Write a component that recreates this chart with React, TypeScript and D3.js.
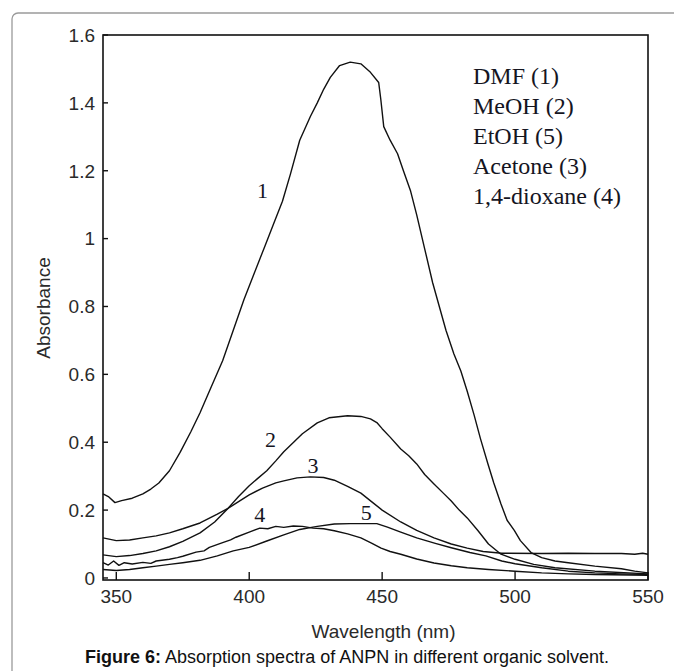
import React from "react";
import * as d3 from "d3";

// ---- Data ----
const dmfWl = [345, 347, 349.5, 352, 356, 360, 363, 366, 370, 374, 378, 381.5, 385, 390, 394, 398, 402, 406, 409, 412.5, 415.5, 419, 423, 425.6, 428, 430.5, 434, 438, 442, 445.6, 448.7, 449.5, 450.6, 453, 455.8, 458, 460.7, 463, 466, 469, 471.5, 474, 477, 479.6, 482, 484.6, 487, 489.8, 492, 494.7, 497, 499.7, 502, 506, 510, 515, 520, 530, 540, 545, 550];
const dmfAbs = [0.248, 0.24, 0.222, 0.228, 0.235, 0.248, 0.262, 0.28, 0.316, 0.37, 0.43, 0.487, 0.55, 0.64, 0.73, 0.82, 0.9, 0.98, 1.04, 1.11, 1.19, 1.29, 1.36, 1.4, 1.44, 1.475, 1.51, 1.52, 1.515, 1.49, 1.46, 1.41, 1.33, 1.29, 1.25, 1.2, 1.14, 1.07, 0.97, 0.87, 0.8, 0.73, 0.66, 0.61, 0.55, 0.48, 0.41, 0.336, 0.28, 0.218, 0.17, 0.14, 0.11, 0.075, 0.06, 0.05, 0.045, 0.035, 0.027, 0.02, 0.015];

const meohWl = [345, 350, 355, 360, 365, 370, 375, 381.5, 387, 392, 396, 400, 403, 406.6, 410, 413, 416.7, 420, 425.6, 430, 437, 442, 445.6, 448, 450, 453, 457, 460, 463, 466, 469.5, 473, 476, 479, 482, 486, 490, 494.7, 500, 507, 515, 530, 550];
const meohAbs = [0.068, 0.063, 0.066, 0.072, 0.08, 0.092, 0.108, 0.133, 0.165, 0.205, 0.24, 0.272, 0.292, 0.316, 0.345, 0.372, 0.4, 0.425, 0.457, 0.472, 0.478, 0.476, 0.469, 0.458, 0.44, 0.415, 0.38, 0.36, 0.336, 0.305, 0.277, 0.25, 0.227, 0.2, 0.177, 0.14, 0.1, 0.07, 0.055, 0.04, 0.03, 0.02, 0.012];

const acetoneWl = [345, 350, 355, 360, 365, 370, 375, 381.5, 388, 392, 396, 400, 405, 410, 413, 418, 423, 428, 432, 437, 442, 446, 450, 457, 463, 469.5, 476, 482, 488, 495, 510, 520, 530, 540, 545, 548, 550];
const acetoneAbs = [0.118, 0.11, 0.112, 0.118, 0.124, 0.133, 0.145, 0.162, 0.188, 0.205, 0.225, 0.245, 0.265, 0.28, 0.286, 0.295, 0.298, 0.296, 0.288, 0.27, 0.25, 0.225, 0.2, 0.165, 0.14, 0.118, 0.1, 0.088, 0.078, 0.073, 0.072, 0.073, 0.072, 0.072, 0.07, 0.073, 0.07];

const dioxaneWl = [345, 347, 349, 351, 353, 356, 360, 363, 365, 370, 373, 375, 380, 383, 385, 390, 393, 395, 400, 404, 407, 410, 413, 416.6, 420, 424, 428, 432, 437, 442, 446, 449.6, 453, 457, 463, 469.5, 476, 482, 490, 500, 510, 520, 530, 550];
const dioxaneAbs = [0.045, 0.038, 0.05, 0.037, 0.045, 0.041, 0.046, 0.043, 0.05, 0.055, 0.06, 0.064, 0.076, 0.08, 0.09, 0.104, 0.112, 0.12, 0.135, 0.147, 0.145, 0.152, 0.149, 0.153, 0.152, 0.147, 0.145, 0.139, 0.13, 0.118, 0.103, 0.088, 0.078, 0.07, 0.056, 0.044, 0.036, 0.03, 0.025, 0.02, 0.015, 0.012, 0.01, 0.008];

const etohWl = [345, 350, 355, 360, 365, 370, 375, 381.5, 388, 394, 400, 406.6, 413, 419, 425.6, 432, 438, 444, 448, 452, 457, 463, 470, 476, 483, 489, 495, 500, 510, 520, 530, 540, 550];
const etohAbs = [0.025, 0.022, 0.025, 0.03, 0.035, 0.04, 0.045, 0.052, 0.065, 0.08, 0.09, 0.109, 0.127, 0.143, 0.152, 0.159, 0.16, 0.16, 0.16, 0.15, 0.135, 0.118, 0.102, 0.089, 0.075, 0.065, 0.05, 0.042, 0.03, 0.02, 0.015, 0.012, 0.01];

const seriesNames = ["DMF", "MeOH", "Acetone", "1,4-dioxane", "EtOH"];
const seriesNumbers = ["1", "2", "3", "4", "5"];
const legendLines = ["DMF (1)", "MeOH (2)", "EtOH (5)", "Acetone (3)", "1,4-dioxane (4)"];
const xTicks = [350, 400, 450, 500, 550];
const yTicks = [0, 0.2, 0.4, 0.6, 0.8, 1, 1.2, 1.4, 1.6];
// label anchor points for the curve numbers, in data units
const labelWl = [405, 408, 424, 404, 444];
const labelAbs = [1.12, 0.385, 0.31, 0.165, 0.17];

const W = 674;
const H = 671;
const left = 103, right = 648, top = 35, bottom = 580;

export default function App() {
  const x = d3.scaleLinear().domain([345, 550]).range([left, right]);
  const y = d3.scaleLinear().domain([-0.006, 1.6]).range([bottom, top]);
  const line = d3
    .line<[number, number]>()
    .x((d) => x(d[0]))
    .y((d) => y(d[1]));

  const series: [number[], number[]][] = [
    [dmfWl, dmfAbs],
    [meohWl, meohAbs],
    [acetoneWl, acetoneAbs],
    [dioxaneWl, dioxaneAbs],
    [etohWl, etohAbs],
  ];

  const sans = "'Liberation Sans', Arial, sans-serif";
  const serif = "'Liberation Serif', 'Times New Roman', serif";

  return (
    <svg
      width={W}
      height={H}
      style={{ position: "absolute", left: 0, top: 0, background: "#fff" }}
    >
      <rect x={12} y={13} width={700} height={700} rx={6} fill="none" stroke="#9a9a9a" strokeWidth={1.3} />

      {series.map(([wl, ab], i) => (
        <path
          key={seriesNames[i]}
          d={line(wl.map((w, k) => [w, ab[k]] as [number, number])) || ""}
          fill="none"
          stroke="#111"
          strokeWidth={1.4}
          strokeLinejoin="round"
        />
      ))}

      {/* frame of plot */}
      <rect x={left} y={top} width={right - left} height={bottom - top} fill="none" stroke="#111" strokeWidth={1.6} />

      {/* y ticks */}
      {yTicks.map((t) => (
        <g key={"y" + t}>
          <line x1={left} x2={left + 5} y1={y(t)} y2={y(t)} stroke="#111" strokeWidth={1.4} />
          <text
            x={95}
            y={y(t)}
            dy="0.36em"
            textAnchor="end"
            fontFamily={sans}
            fontSize={19}
            fill="#2a2a2a"
          >
            {String(t)}
          </text>
        </g>
      ))}

      {/* x ticks */}
      {xTicks.map((t) => (
        <g key={"x" + t}>
          <line x1={x(t)} x2={x(t)} y1={bottom} y2={bottom - 8} stroke="#111" strokeWidth={1.4} />
          <text x={x(t)} y={603} textAnchor="middle" fontFamily={sans} fontSize={19} fill="#2a2a2a">
            {String(t)}
          </text>
        </g>
      ))}

      <text
        transform={`translate(50, 308) rotate(-90)`}
        textAnchor="middle"
        fontFamily={sans}
        fontSize={19}
        fill="#2a2a2a"
      >
        Absorbance
      </text>
      <text x={(left + right) / 2 + 8} y={638} textAnchor="middle" fontFamily={sans} fontSize={19} fill="#2a2a2a">
        Wavelength (nm)
      </text>

      {/* legend */}
      {legendLines.map((s, i) => (
        <text key={s} x={473} y={84 + i * 30} fontFamily={serif} fontSize={24} fill="#15151f">
          {s}
        </text>
      ))}

      {/* curve numbers */}
      {seriesNumbers.map((n, i) => (
        <text
          key={"n" + n}
          x={x(labelWl[i])}
          y={y(labelAbs[i])}
          textAnchor="middle"
          fontFamily={serif}
          fontSize={22}
          fill="#15151f"
        >
          {n}
        </text>
      ))}

      <text x={347} y={663} textAnchor="middle" fontFamily={sans} fontSize={18} fill="#111">
        <tspan fontWeight="bold">Figure 6:</tspan>
        <tspan> Absorption spectra of ANPN in different organic solvent.</tspan>
      </text>
    </svg>
  );
}
